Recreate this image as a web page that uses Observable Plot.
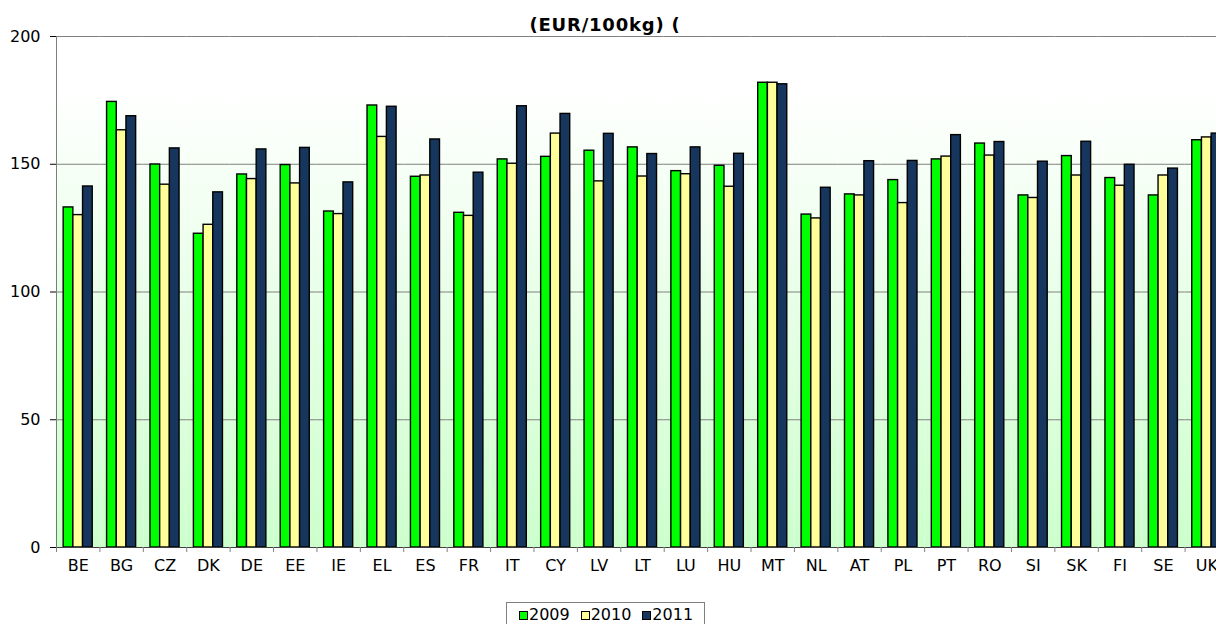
<!DOCTYPE html>
<html>
<head>
<meta charset="utf-8">
<script src="https://cdn.jsdelivr.net/npm/d3@7"></script>
<script src="https://cdn.jsdelivr.net/npm/@observablehq/plot@0.6"></script>
<style>
  html, body { margin: 0; padding: 0; background: #ffffff; overflow: hidden; }
  #wrap { position: relative; width: 1216px; height: 624px; font-family: "DejaVu Sans", Verdana, sans-serif; }
  #title { position: absolute; left: 0; top: 16px; width: 1210px; text-align: center; font-weight: bold; font-size: 18px; line-height: 18px; letter-spacing: 0.8px; color: #000; z-index: 2; }
  #legend { position: absolute; left: 506px; top: 602px; width: 199px; height: 30px; border: 1px solid #808080; box-sizing: border-box; padding-left: 12px; display: flex; align-items: flex-start; padding-top: 3px; background: #fff; }
  .item { width: 67px; display: flex; align-items: center; font-size: 16px; line-height: 18px; color: #000; }
  .sw { width: 7px; height: 7px; border: 1px solid #000; margin-right: 1px; }
</style>
</head>
<body>
<svg width="0" height="0" style="position:absolute">
  <defs>
    <linearGradient id="bgGrad" x1="0" y1="0" x2="0" y2="1">
      <stop offset="0" stop-color="#ffffff"/>
      <stop offset="0.1" stop-color="#ffffff"/>
      <stop offset="1" stop-color="#ccffcc"/>
    </linearGradient>
  </defs>
</svg>
<div id="wrap">
  <div id="title"></div>
  <div id="chart"></div>
  <div id="legend"></div>
</div>
<script>
const titleText = "(EUR/100kg) (";
const countries = ["BE","BG","CZ","DK","DE","EE","IE","EL","ES","FR","IT","CY","LV","LT","LU","HU","MT","NL","AT","PL","PT","RO","SI","SK","FI","SE","UK"];
const years = ["2009","2010","2011"];
const colors = ["#00ff00","#ffff99","#17365d"];
const v2009 = [133.1,174.4,149.9,122.8,146.0,149.7,131.5,173.0,145.1,131.0,151.9,152.9,155.3,156.6,147.3,149.4,181.9,130.3,138.2,143.8,151.9,158.1,137.8,153.2,144.6,137.8,159.4];
const v2010 = [130.1,163.3,142.0,126.3,144.2,142.5,130.5,160.7,145.6,129.8,150.2,162.0,143.3,145.2,146.1,141.2,181.9,128.8,137.8,134.8,153.0,153.4,136.8,145.6,141.6,145.6,160.5];
const v2011 = [141.3,168.8,156.2,139.0,155.8,156.4,142.9,172.5,159.7,146.7,172.7,169.7,161.9,154.0,156.6,154.1,181.3,140.8,151.2,151.3,161.4,158.7,151.0,158.8,149.8,148.3,162.0];
const yTicks = [0, 50, 100, 150, 200];

const series = [v2009, v2010, v2011];
const data = countries.flatMap((c, i) => years.map((y, j) => ({country: c, year: y, value: series[j][i]})));

// layout
const W = 1216, H = 592, mL = 56, mR = -12, mT = 36, mB = 45;
const po = 0.74;
const bandW = (W - mR - mL) / countries.length;
const step = bandW / (years.length + 2 * po);
const edgeDx = -(po + 0.5) * step;

const chart = Plot.plot({
  width: W, height: H,
  marginLeft: mL, marginRight: mR, marginTop: mT, marginBottom: mB,
  style: {fontFamily: '"DejaVu Sans", Verdana, sans-serif', fontSize: "16px", color: "#000", background: "transparent", overflow: "visible"},
  fx: {domain: countries, padding: 0, round: false, label: null, axis: "bottom", tickSize: 0, tickPadding: 12},
  x: {domain: years, paddingInner: 0, paddingOuter: po, round: false, axis: null},
  y: {domain: [0, 200], ticks: yTicks, label: null, tickSize: 6, tickPadding: 10, line: true},
  color: {domain: years, range: colors},
  marks: [
    Plot.frame({fill: "url(#bgGrad)", stroke: "none"}),
    Plot.ruleY(yTicks.filter(d => d > 0), {stroke: "#808080", strokeWidth: 1}),
    Plot.barY(data, {fx: "country", x: "year", y: "value", fill: "year", stroke: "#000", strokeWidth: 1.4}),
    Plot.ruleY([0], {stroke: "#404040", strokeWidth: 1}),
    Plot.ruleX([years[0]], {x: d => d, y1: 0, y2: 0, insetBottom: -5, dx: edgeDx, stroke: "#808080", strokeWidth: 1})
  ]
});
document.getElementById("chart").appendChild(chart);
document.getElementById("title").textContent = titleText;

const legend = d3.select("#legend");
years.forEach((y, j) => {
  const it = legend.append("div").attr("class", "item");
  it.append("div").attr("class", "sw").style("background", colors[j]);
  it.append("span").text(y);
});
</script>
</body>
</html>
